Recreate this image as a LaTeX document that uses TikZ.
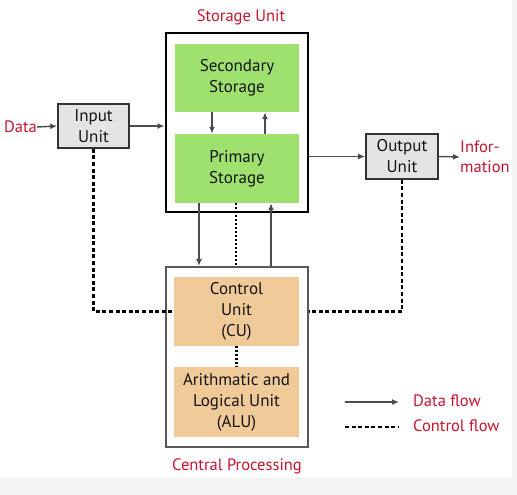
\documentclass[tikz,border=0pt]{standalone}
\usepackage{fontspec}
\setmainfont{PT Sans}
\usetikzlibrary{arrows.meta,positioning}
\definecolor{lbl}{RGB}{200,20,48}
\definecolor{grn}{RGB}{158,225,110}
\definecolor{org}{RGB}{240,202,152}
\definecolor{iobox}{RGB}{228,228,228}
\definecolor{bg}{RGB}{244,244,244}
\definecolor{txt}{RGB}{20,20,20}
\tikzset{
  unitbox/.style={minimum width=#1, inner sep=0pt, align=center, text=txt, font=\fontsize{17}{21}\selectfont},
  iobx/.style={draw=black!80, line width=1.6pt, fill=iobox, minimum width=71pt, minimum height=44pt, inner sep=0pt, align=center, text=txt, font=\fontsize{17}{21}\selectfont},
  lab/.style={text=lbl, font=\fontsize{16.5}{20}\selectfont, inner sep=0pt, align=left},
  dflow/.style={draw=black!70, line width=1.4pt, -{Latex[length=7pt,width=6pt,fill=black]}},
  cflow/.style={draw=black, line width=2.6pt, dash pattern=on 4pt off 2.6pt},
  dotflow/.style={draw=black, line width=2.4pt, dash pattern=on 2.2pt off 1.8pt},
}
\begin{document}
\begin{tikzpicture}[x=1pt,y=-1pt]
\fill[bg] (0,0) rectangle (517,495);
\fill[white] (0,0) rectangle (512,478);
\useasboundingbox (0,0) rectangle (517,495);
% storage unit
\node[draw=black, line width=2.8pt, minimum width=142pt, minimum height=179pt, inner sep=0pt] (stor) at (237,122.5) {};
\node[lab] (storlab) at (241,17) {Storage Unit};
\node[unitbox=124pt, fill=grn, minimum height=68pt] (sec) at (237,78) {Secondary\\Storage};
\node[unitbox=124pt, fill=grn, minimum height=69pt] (prim) at (237,168.5) {Primary\\Storage};
% cpu
\node[draw=black!65, line width=2.2pt, minimum width=142pt, minimum height=180pt, inner sep=0pt] (cpu) at (237,357) {};
\node[lab] (cpulab) at (237,466) {Central Processing};
\node[unitbox=125pt, fill=org, minimum height=69pt] (cu) at (236.5,311.5) {Control\\Unit\\(CU)};
\node[unitbox=125pt, fill=org, minimum height=70pt] (alu) at (236.5,402) {Arithmatic and\\Logical Unit\\(ALU)};
% io
\node[iobx] (in) at (93.5,126) {Input\\Unit};
\node[iobx, minimum width=72pt, minimum height=45pt] (out) at (402,156.5) {Output\\Unit};
\node[lab, anchor=east] (data) at (37,127) {Data};
\node[lab, anchor=west] (info) at (460,157) {Infor-\\mation};
% data flows
\draw[dflow] (data.east) -- (in.west);
\draw[dflow] (in.east) -- (in.east -| stor.west);
\draw[dflow] (stor.east |- out.west) -- (out.west);
\draw[dflow] (out.east) -- (info.west);
\draw[dflow] ([xshift=-25pt]sec.south) -- ([xshift=-25pt]prim.north);
\draw[dflow] ([xshift=28pt]prim.north) -- ([xshift=28pt]sec.south);
\draw[dflow] ([xshift=-38pt]prim.south) -- ([xshift=-38pt]cpu.north);
\draw[dflow] ([xshift=34pt]cpu.north) -- ([xshift=34pt]prim.south);
% control flows
\draw[dotflow] ([xshift=-1pt]prim.south) -- ([xshift=-1pt]cpu.north);
\draw[dotflow] (cu.south) -- (alu.north);
\draw[cflow] (in.south) |- (cu.west);
\draw[cflow] (out.south) |- (cu.east -| cpu.east);
% legend
\coordinate (l1a) at (345,402);
\coordinate (l1b) at (399,402);
\coordinate (l2a) at (345,427);
\coordinate (l2b) at (399,427);
\draw[dflow] (l1a) -- (l1b);
\draw[cflow] (l2a) -- (l2b);
\node[lab, anchor=west] (dl) at (413,401) {Data flow};
\node[lab, anchor=west] (cl) at (413,426) {Control flow};
\end{tikzpicture}
\end{document}
